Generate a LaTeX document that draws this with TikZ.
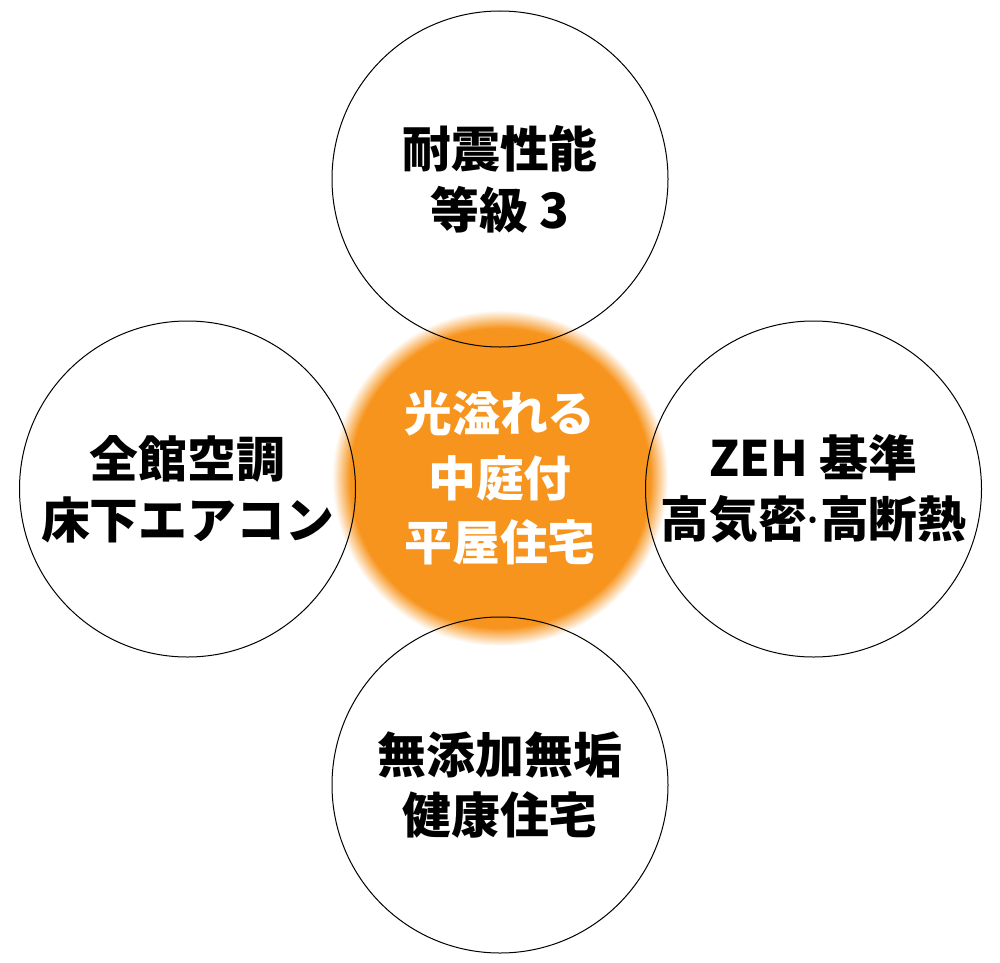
\documentclass[tikz,border=0pt]{standalone}
\usepackage{fontspec}
\setmainfont{Noto Sans CJK JP}
\newfontfamily\latindot{Noto Sans}
\definecolor{orng}{HTML}{F7941D}
\pgfdeclareradialshading{glow}{\pgfpoint{0bp}{0bp}}{color(0bp)=(orng); color(22.3bp)=(orng); color(25bp)=(white); color(50bp)=(white)}
\tikzset{
  ring/.style={circle, draw=black, line width=1bp, minimum size=336bp, inner sep=0pt, align=center, font=\bfseries\fontsize{49}{61}\selectfont},
  core/.style={circle, minimum size=336bp, inner sep=0pt, shading=glow, align=center, text=white, font=\bfseries\fontsize{48}{65}\selectfont}
}
\begin{document}
\begin{tikzpicture}[x=1bp,y=-1bp]
\fill[white] (0,0) rectangle (1000,963);
\useasboundingbox (0,0) rectangle (1000,963);
\node[core] (c) at (500,478) {光溢れる\\中庭付\\平屋住宅};
\node[ring] (t) at (500,179) {耐震性能\\等級 3};
\node[ring] (l) at (187.5,489) {全館空調\\床下エアコン};
\node[ring] (r) at (813.5,489) {ZEH 基準\\高気密{\latindot\bfseries·}高断熱};
\node[ring] (b) at (500,785) {無添加無垢\\健康住宅};
\end{tikzpicture}
\end{document}
